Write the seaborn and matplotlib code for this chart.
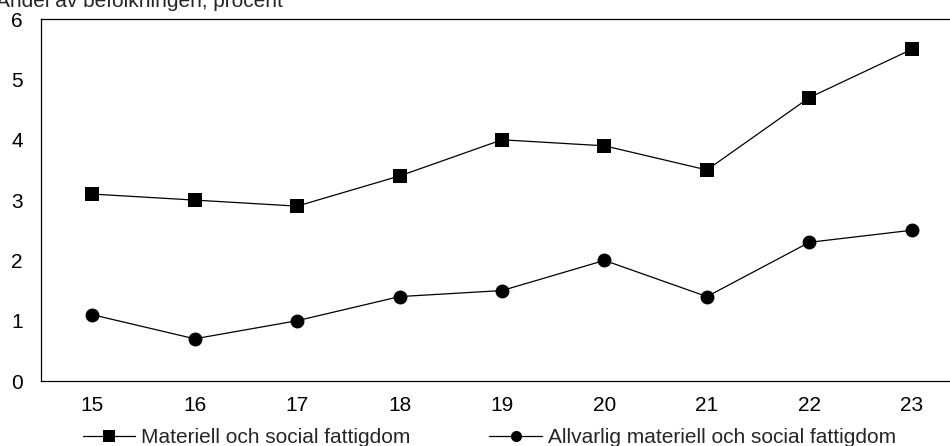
import matplotlib

matplotlib.use("Agg")

import matplotlib.pyplot as plt
import numpy as np
import pandas as pd
import seaborn as sns
from matplotlib.lines import Line2D

YEARS = ["15", "16", "17", "18", "19", "20", "21", "22", "23"]
MATERIELL = [3.1, 3.0, 2.9, 3.4, 4.0, 3.9, 3.5, 4.7, 5.5]
ALLVARLIG = [1.1, 0.7, 1.0, 1.4, 1.5, 2.0, 1.4, 2.3, 2.5]
SERIES = ["Materiell och social fattigdom", "Allvarlig materiell och social fattigdom"]

sns.set_theme(style="white")
plt.rcParams["font.family"] = ["Liberation Sans", "DejaVu Sans"]

pos = np.arange(len(YEARS))
df = pd.DataFrame({
    "pos": np.concatenate([pos, pos]),
    "value": MATERIELL + ALLVARLIG,
    "serie": [SERIES[0]] * len(YEARS) + [SERIES[1]] * len(YEARS),
})

fig = plt.figure(figsize=(9.5, 4.46), dpi=100)
ax = fig.add_axes([0.0432, 0.1457, 0.9705, 0.8113])

sns.lineplot(data=df, x="pos", y="value", hue="serie", style="serie",
             palette=["black", "black"], markers=["s", "o"], dashes=False,
             linewidth=0.9, markersize=10, markeredgewidth=0, legend=False, ax=ax)

ax.set_xlim(-0.5, len(YEARS) - 0.5)
ax.set_ylim(0, 6)
ax.set_yticks(range(0, 7))
ax.tick_params(axis="y", direction="in", length=5, width=0.8, color="black",
               pad=13, labelsize=15, labelcolor="black")
ax.set_xticks(pos[:-1] + 0.5)
ax.set_xticklabels([])
ax.set_xticks(pos, minor=True)
ax.set_xticklabels(YEARS, minor=True)
ax.tick_params(axis="x", which="major", direction="inout", length=9, width=0.8, color="black")
ax.tick_params(axis="x", which="minor", length=0, pad=11, labelsize=15, labelcolor="black")
ax.set_xlabel("")
ax.set_ylabel("")
for side in ["left", "bottom", "top", "right"]:
    ax.spines[side].set_color("black")
    ax.spines[side].set_linewidth(0.9)

fig.text(-0.004, 0.997, "Andel av befolkningen, procent", fontsize=15, va="center", ha="left")

handles = [
    Line2D([], [], color="black", linewidth=0.9, marker="s", markersize=8, markeredgewidth=0),
    Line2D([], [], color="black", linewidth=0.9, marker="o", markersize=8, markeredgewidth=0),
]
fig.legend(handles, SERIES, loc="center", bbox_to_anchor=(0.515, 0.018), ncol=2,
           frameon=False, fontsize=15, handlelength=2.5, handletextpad=0.3,
           columnspacing=3.8, borderpad=0)

fig.savefig("out.png", dpi=100)
